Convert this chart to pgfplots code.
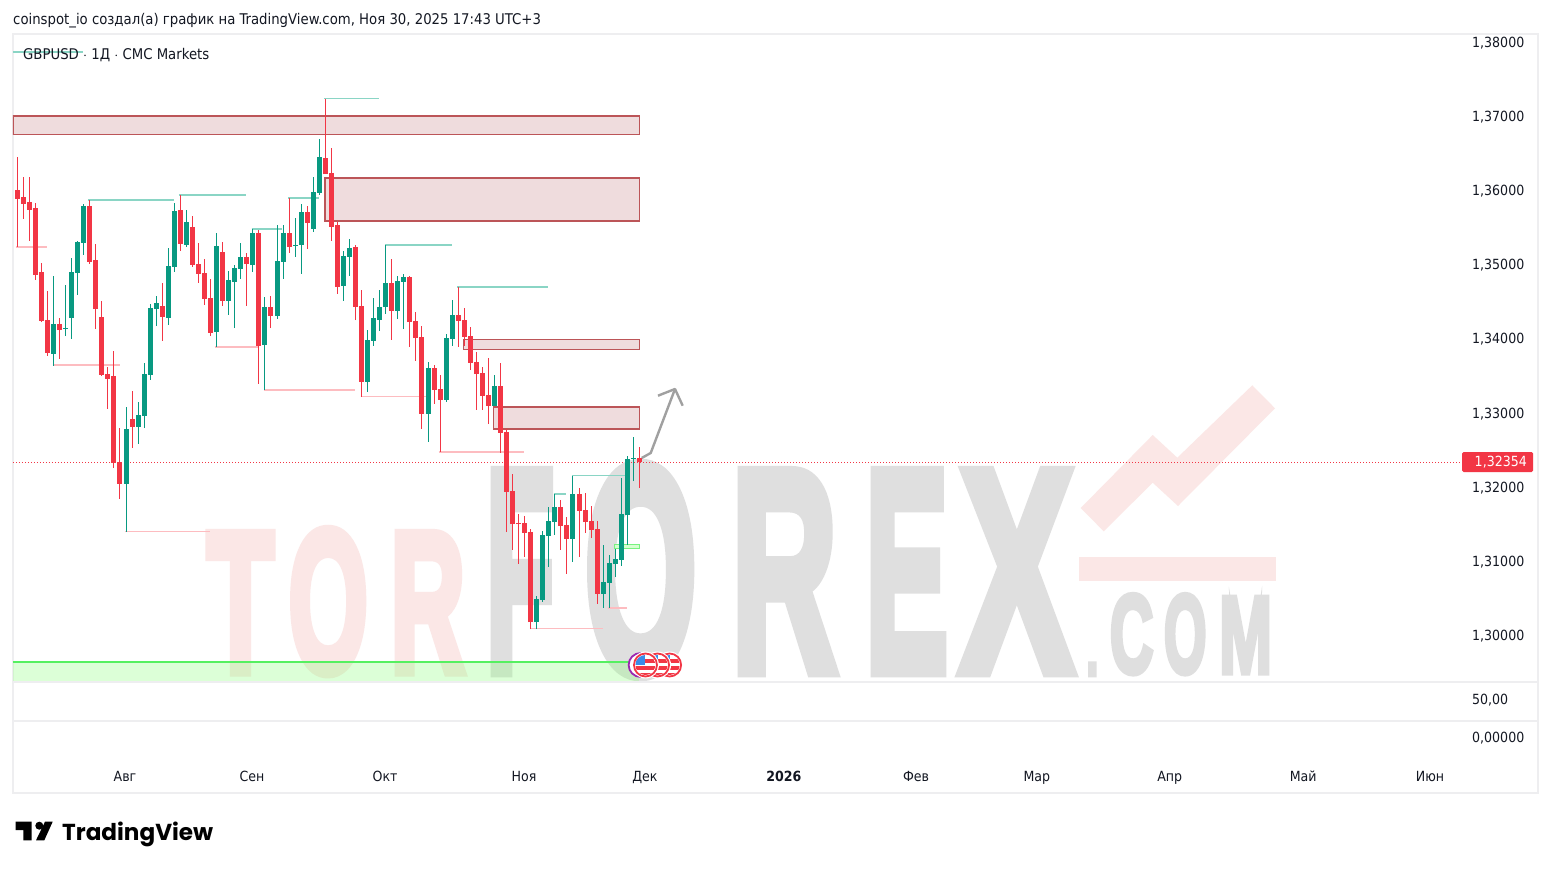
\documentclass[border=0pt]{standalone}
\usepackage{pgfplots}
\usepackage{pgfplotstable}
\usepackage{graphicx}
\usepackage{fontspec}
\pgfplotsset{compat=1.18}
\setmainfont{DejaVu Sans Condensed}
\newfontface\wmfont{Liberation Sans Bold}[FakeBold=5]
\newfontface\logofont{Poppins Bold}

\definecolor{cUp}{HTML}{089981}
\definecolor{cDown}{HTML}{F23645}
\definecolor{cText}{HTML}{131722}
\definecolor{cFrame}{HTML}{EEEEF0}
\definecolor{cZoneFill}{HTML}{EFDCDD}
\definecolor{cZoneLine}{HTML}{BC5558}
\definecolor{cHigh}{HTML}{8AD5C5}
\definecolor{cLow}{HTML}{FDBCC0}
\definecolor{cBand}{HTML}{8EFF7D}
\definecolor{cBandLine}{HTML}{55F060}
\definecolor{cWmGray}{HTML}{DFDFDF}
\definecolor{cWmPink}{HTML}{FBE7E6}
\definecolor{cArrow}{HTML}{A0A0A0}
\definecolor{cFlagBlue}{HTML}{3A8BE8}
\definecolor{cPurple}{HTML}{9C27B0}

% columns: bar index, low, body bottom, body top, high
\pgfplotstableread{
i l b t h
0 1.35256 1.35903 1.36024 1.36470
1 1.35633 1.35835 1.35930 1.36200
2 1.35337 1.35754 1.35862 1.36200
3 1.34810 1.34878 1.35781 1.35849
4 1.34243 1.34257 1.34918 1.35040
5 1.33785 1.33826 1.34270 1.34662
7 1.33744 1.34135 1.34216 1.34297
12 1.35026 1.35053 1.35808 1.35889
13 1.34148 1.34418 1.35080 1.35296
14 1.33515 1.33529 1.34311 1.34527
15 1.33070 1.33475 1.33542 1.33637
16 1.32274 1.32342 1.33515 1.33853
17 1.31856 1.32058 1.32355 1.32813
19 1.32544 1.32827 1.32935 1.33313
24 1.33987 1.34311 1.34459 1.34770
27 1.35202 1.35296 1.35754 1.35957
29 1.34986 1.35013 1.35525 1.35673
30 1.34770 1.34891 1.35026 1.35310
31 1.34473 1.34554 1.34905 1.35094
32 1.34054 1.34095 1.34567 1.34824
34 1.34459 1.34527 1.35188 1.35323
38 1.34459 1.35026 1.35121 1.35175
40 1.33407 1.33920 1.35445 1.35485
42 1.34162 1.34324 1.34446 1.34594
45 1.35175 1.35256 1.35445 1.35916
48 1.35229 1.35579 1.35727 1.35808
51 1.36240 1.36240 1.36456 1.37252
52 1.35337 1.35525 1.36254 1.36591
53 1.34621 1.34716 1.35552 1.35592
56 1.34270 1.34446 1.35256 1.35283
57 1.33232 1.33434 1.34459 1.34675
62 1.34001 1.34392 1.34770 1.35094
65 1.33906 1.34243 1.34851 1.34864
66 1.33717 1.34027 1.34257 1.34378
67 1.32800 1.33002 1.34041 1.34189
69 1.33137 1.33326 1.33623 1.33663
70 1.32490 1.33191 1.33340 1.33529
73 1.33906 1.34257 1.34338 1.34716
74 1.33920 1.34041 1.34270 1.34432
75 1.33596 1.33690 1.34054 1.34176
76 1.33056 1.33542 1.33704 1.33839
77 1.33056 1.33245 1.33556 1.33637
78 1.32867 1.33110 1.33259 1.33758
80 1.32476 1.32746 1.33380 1.33690
81 1.31410 1.31950 1.32759 1.32800
82 1.31168 1.31518 1.31963 1.32193
83 1.30979 1.31518 1.31532 1.31653
84 1.31074 1.31397 1.31532 1.31626
85 1.30101 1.30196 1.31410 1.31451
90 1.31168 1.31491 1.31748 1.31842
91 1.30844 1.31316 1.31505 1.31612
93 1.31074 1.31694 1.31923 1.32004
94 1.31397 1.31545 1.31707 1.31936
95 1.31329 1.31437 1.31559 1.31761
96 1.30439 1.30574 1.31451 1.31559
103 1.32004 1.32354 1.32409 1.32557
}\tblDown

\pgfplotstableread{
i l b t h
6 1.33650 1.33812 1.34216 1.34864
8 1.34054 1.34148 1.34162 1.34743
9 1.34014 1.34297 1.34918 1.35107
10 1.34608 1.34905 1.35323 1.35337
11 1.35148 1.35310 1.35808 1.35835
18 1.31410 1.32058 1.32800 1.33097
20 1.32598 1.32827 1.32989 1.33164
21 1.32813 1.32975 1.33542 1.33690
22 1.33461 1.33529 1.34432 1.34486
23 1.34189 1.34418 1.34500 1.34594
25 1.34203 1.34297 1.34999 1.35242
26 1.34918 1.34986 1.35741 1.35849
28 1.35256 1.35283 1.35592 1.35754
33 1.33906 1.34108 1.35269 1.35445
35 1.34338 1.34527 1.34810 1.34932
36 1.34162 1.34783 1.34972 1.35013
37 1.34824 1.34959 1.35121 1.35310
39 1.34918 1.35013 1.35445 1.35498
41 1.33326 1.33933 1.34446 1.34581
43 1.34284 1.34324 1.35067 1.35552
44 1.34824 1.35053 1.35445 1.35552
46 1.35121 1.35269 1.35283 1.35646
47 1.34891 1.35283 1.35727 1.35835
49 1.35458 1.35498 1.35997 1.36200
50 1.35957 1.35984 1.36470 1.36712
54 1.34527 1.34729 1.35134 1.35202
55 1.34864 1.35121 1.35242 1.35364
58 1.33299 1.33434 1.34001 1.34135
59 1.33920 1.33987 1.34297 1.34567
60 1.34122 1.34270 1.34446 1.34675
61 1.34351 1.34446 1.34770 1.35283
63 1.34284 1.34392 1.34797 1.34864
64 1.34148 1.34783 1.34851 1.34891
68 1.32625 1.33002 1.33623 1.33704
71 1.33164 1.33191 1.34027 1.34081
72 1.33920 1.34014 1.34338 1.34540
79 1.33110 1.33110 1.33380 1.33529
86 1.30101 1.30196 1.30506 1.30547
87 1.30466 1.30493 1.31370 1.31424
88 1.30938 1.31356 1.31559 1.31748
89 1.31370 1.31545 1.31748 1.31923
92 1.31006 1.31316 1.31923 1.32166
97 1.30385 1.30574 1.30736 1.31235
98 1.30385 1.30723 1.30993 1.31100
99 1.30803 1.30979 1.31047 1.31181
100 1.30952 1.31033 1.31653 1.32139
101 1.31235 1.31640 1.32395 1.32436
102 1.32098 1.32395 1.32409 1.32692
}\tblUp

% liquidity lines: from bar, to bar, price
\pgfplotstableread{
a b p
11.75 25.94 1.35889
26.77 37.86 1.35957
38.80 43.77 1.35498
44.82 49.95 1.35916
50.78 59.89 1.37256
60.88 71.97 1.35283
72.80 87.87 1.34716
88.86 90.85 1.31923
91.84 100.6 1.32170
-0.71 10.88 1.37885
}\tblHighs

\pgfplotstableread{
a b p
-0.20 4.92 1.35256
5.86 17.00 1.33663
32.70 39.80 1.33906
40.85 55.90 1.33326
56.85 68.30 1.33237
17.83 31.90 1.31414
69.80 83.90 1.32490
84.88 96.97 1.30106
97.80 100.9 1.30385
}\tblLows

\pgfdeclareplotmark{usflag}{%
  \pgfsetfillcolor{white}\pgfpathcircle{\pgfpointorigin}{13.5pt}\pgfusepathqfill
  \begin{pgfscope}
    \pgfpathcircle{\pgfpointorigin}{10pt}\pgfusepathqclip
    \pgfsetfillcolor{cDown}
    \pgfpathrectangle{\pgfpoint{-10pt}{1.5pt}}{\pgfpoint{20pt}{4pt}}\pgfusepathqfill
    \pgfpathrectangle{\pgfpoint{-10pt}{-5pt}}{\pgfpoint{20pt}{4pt}}\pgfusepathqfill
    \pgfpathrectangle{\pgfpoint{-10pt}{-11pt}}{\pgfpoint{20pt}{3pt}}\pgfusepathqfill
    \pgfsetfillcolor{cFlagBlue}
    \pgfpathrectangle{\pgfpoint{-10pt}{0pt}}{\pgfpoint{10pt}{10pt}}\pgfusepathqfill
  \end{pgfscope}
  \pgfsetstrokecolor{cDown}\pgfsetlinewidth{1.8pt}
  \pgfpathcircle{\pgfpointorigin}{11.5pt}\pgfusepathqstroke
}

\newcommand{\wmletter}[6]{% x0, y0 (bottom), width, height, colour, letter
  \node[anchor=south west,inner sep=0pt,text=#5] at (#1,#2)
    {\resizebox{#3pt}{#4pt}{\wmfont #6}};}

\begin{document}
\begin{tikzpicture}
\begin{scope}[x=1pt,y=-1pt]
  \path[use as bounding box,fill=white] (0,0) rectangle (1551,869);
  % header
  \node[anchor=base west,inner sep=0pt,text=cText,font=\fontsize{14.75}{16}\selectfont] at (13,25)
    {coinspot\_io создал(а) график на TradingView.com, Ноя 30, 2025 17:43 UTC+3};
  % watermark, letters inset because the fake bold grows past the box
  \wmletter{206.7}{671.8}{67}{137.6}{cWmPink}{T}
  \wmletter{288.2}{673.6}{79.6}{141.3}{cWmPink}{O}
  \wmletter{390}{671.8}{75}{137.6}{cWmPink}{R}
  \wmletter{485.7}{670.5}{68.5}{197}{cWmGray}{F}
  \wmletter{584.5}{674.2}{112}{204.6}{cWmGray}{O}
  \wmletter{731.2}{670.5}{105.6}{197}{cWmGray}{R}
  \wmletter{865.3}{670.5}{82.4}{197}{cWmGray}{E}
  \wmletter{960.5}{670.5}{112}{197}{cWmGray}{X}
  \wmletter{1086}{675.5}{12.5}{12}{cWmGray}{.}
  \wmletter{1109.7}{674}{43.5}{78}{cWmGray}{C}
  \wmletter{1163.7}{674}{42.6}{78}{cWmGray}{O}
  \wmletter{1219}{673}{52.8}{75.3}{cWmGray}{M}
  \fill[cWmPink] (1252.3,385.3) -- (1275,408.3) -- (1178,506) -- (1152.7,482.7) -- (1103.7,531.3)
    -- (1080.7,508) -- (1152.7,435) -- (1177.3,457.7) -- cycle;
  \fill[cWmPink] (1079.3,556.7) rectangle (1276,580.7);
\end{scope}

\begin{axis}[
  at={(13pt,-682pt)}, anchor=south west,
  width=1525pt, height=648pt, scale only axis,
  xmin=-0.712, xmax=251.77, ymin=1.293866, ymax=1.381281,
  axis line style={cFrame,line width=1.5pt},
  xtick=\empty,
  ytick={1.30,1.31,1.32,1.33,1.34,1.35,1.36,1.37,1.38},
  ytick style={draw=none},
  yticklabel pos=right,
  yticklabel style={anchor=west,xshift=-66pt,yshift=0.5pt,text=cText,font=\fontsize{14}{16}\selectfont,
    /pgf/number format/.cd,fixed,fixed zerofill,precision=5,use comma,1000 sep={},assume math mode=true},
  tick label style={inner sep=0pt},
  yticklabel shift=0pt,
]
  % price band at the bottom
  \addplot[fill=cBand,fill opacity=0.3,draw=none] coordinates
    {(-0.712,1.29656) (103,1.29656) (103,1.293866) (-0.712,1.293866)} -- cycle;
  \addplot[cBandLine,line width=1.2pt] coordinates {(-0.712,1.29656) (103,1.29656)};
  % zones
  \addplot[fill=cZoneFill,draw=cZoneLine,line width=1.1pt] coordinates
    {(-0.712,1.37022) (103,1.37022) (103,1.36767) (-0.712,1.36767)} -- cycle;
  \addplot[fill=cZoneFill,draw=cZoneLine,line width=1.1pt] coordinates
    {(50.94,1.36186) (103,1.36186) (103,1.35605) (50.94,1.35605)} -- cycle;
  \addplot[fill=cZoneFill,draw=cZoneLine,line width=1.1pt] coordinates
    {(73.84,1.34001) (103,1.34001) (103,1.33866) (73.84,1.33866)} -- cycle;
  \addplot[fill=cZoneFill,draw=cZoneLine,line width=1.1pt] coordinates
    {(78.9,1.33097) (103,1.33097) (103,1.32800) (78.9,1.32800)} -- cycle;
  \addplot[fill=cBand!35,draw=cBandLine!80,line width=1pt] coordinates
    {(98.8,1.31235) (103,1.31235) (103,1.31181) (98.8,1.31181)} -- cycle;
  % last price line
  \addplot[cDown,line width=1pt,dash pattern=on 1pt off 2pt] coordinates {(-0.712,1.32354) (239.2,1.32354)};
  % liquidity lines
  \addplot[draw=none,mark=none,error bars/.cd,x dir=plus,x explicit,error mark=none,
    error bar style={cHigh,line width=1.4pt}]
    table[x=a,y=p,x error plus expr=\thisrow{b}-\thisrow{a}] {\tblHighs};
  \addplot[draw=none,mark=none,error bars/.cd,x dir=plus,x explicit,error mark=none,
    error bar style={cLow,line width=1.4pt}]
    table[x=a,y=p,x error plus expr=\thisrow{b}-\thisrow{a}] {\tblLows};
  % wicks
  \addplot[draw=none,mark=none,error bars/.cd,y dir=plus,y explicit,error mark=none,
    error bar style={cDown,line width=1pt}]
    table[x=i,y=l,y error plus expr=\thisrow{h}-\thisrow{l}] {\tblDown};
  \addplot[draw=none,mark=none,error bars/.cd,y dir=plus,y explicit,error mark=none,
    error bar style={cUp,line width=1pt}]
    table[x=i,y=l,y error plus expr=\thisrow{h}-\thisrow{l}] {\tblUp};
  % bodies
  \addplot[draw=none,mark=none,error bars/.cd,y dir=plus,y explicit,error mark=none,
    error bar style={cDown,line width=5pt}]
    table[x=i,y=b,y error plus expr=\thisrow{t}-\thisrow{b}] {\tblDown};
  \addplot[draw=none,mark=none,error bars/.cd,y dir=plus,y explicit,error mark=none,
    error bar style={cUp,line width=5pt}]
    table[x=i,y=b,y error plus expr=\thisrow{t}-\thisrow{b}] {\tblUp};
  % event markers
  \addplot[only marks,mark=*,mark size=12pt,mark options={draw=cPurple,fill=white,line width=1.8pt}]
    coordinates {(103.2,1.29616)};
  \addplot[only marks,mark=usflag] coordinates {(108,1.29616) (106,1.29616) (104,1.29616)};
\end{axis}

\begin{axis}[
  at={(13pt,-793pt)}, anchor=south west,
  width=1525pt, height=111pt, scale only axis,
  xmin=-0.712, xmax=251.77, ymin=-72.37, ymax=73.68,
  axis line style={cFrame,line width=1.5pt},
  ytick={0,50}, yticklabels={{0,00000},{50,00}},
  ytick style={draw=none}, xtick style={draw=none},
  yticklabel pos=right,
  yticklabel style={anchor=west,xshift=-66pt,yshift=-0.5pt,text=cText,font=\fontsize{14}{16}\selectfont},
  xtick={17.83,38.86,60.88,83.89,103.9,126.9,148.8,168.8,190.8,212.9,233.9},
  xticklabels={Авг,Сен,Окт,Ноя,Дек,\textbf{2026},Фев,Мар,Апр,Май,Июн},
  xticklabel style={anchor=base,yshift=12pt,text=cText,font=\fontsize{14}{16}\selectfont},
  tick label style={inner sep=0pt},
  xticklabel shift=0pt,
]
  \draw[cFrame,line width=1.5pt] (rel axis cs:0,0.6486) -- (rel axis cs:1,0.6486);
\end{axis}

\begin{scope}[x=1pt,y=-1pt]
  % symbol line
  \node[anchor=base west,inner sep=0pt,text=cText,font=\fontsize{14.75}{16}\selectfont] at (23,60)
    {GBPUSD $\cdot$ 1Д $\cdot$ CMC Markets};
  % drawn arrow
  \draw[cArrow,line width=2.4pt,line join=round] (641.7,458) -- (650.7,453) -- (675,389);
  \draw[cArrow,line width=2.4pt,line join=round] (658,395.7) -- (675,389) -- (682.7,405.7);
  % last price label
  \fill[cDown,rounded corners=1.5pt] (1462,452) rectangle (1533,472);
  \node[anchor=east,inner sep=0pt,text=white,font=\fontsize{14}{16}\selectfont] at (1527,462) {1,32354};
  % logo
  \fill[black] (15.7,821.7) -- (31.7,821.7) -- (31.7,840.3) -- (23.3,840.3) -- (23.3,830) -- (15.7,830) -- cycle;
  \fill[black] (39.3,825.7) circle (4);
  \fill[black] (45,821.7) -- (52.7,821.7) -- (44.3,840.3) -- (36,840.3) -- cycle;
  \node[anchor=base west,inner sep=0pt,text=black] at (62,840.3)
    {\resizebox{151pt}{!}{\logofont TradingView}};
\end{scope}
\end{tikzpicture}
\end{document}
